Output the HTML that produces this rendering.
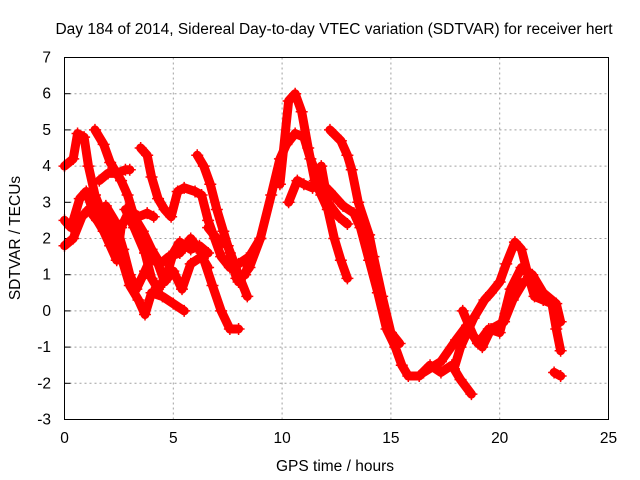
<!DOCTYPE html>
<html><head><meta charset="utf-8"><style>
body{margin:0;background:#fff}
svg{display:block;font-family:"Liberation Sans",sans-serif;font-size:15.5px}
</style></head><body>
<svg id="chart" width="640" height="480">
<text x="334" y="34" text-anchor="middle">Day 184 of 2014, Sidereal Day-to-day VTEC variation (SDTVAR) for receiver hert</text>
<text x="335" y="471" text-anchor="middle">GPS time / hours</text>
<text transform="translate(20,238) rotate(-90)" text-anchor="middle">SDTVAR / TECUs</text>
<g id="grid"></g><g id="ticks"></g><g id="marks"></g>
<rect x="64.5" y="57.5" width="544" height="362" fill="none" stroke="#000"/>
</svg>
<script>
const xTicks=[0,5,10,15,20,25];
const yTicks=[-3,-2,-1,0,1,2,3,4,5,6,7];
const trackA=[[8.0,0.8],[8.5,1.2],[9.0,2.0],[9.5,3.2],[9.9,4.2],[10.2,4.6],[10.6,4.9],[11.0,4.8],[11.3,4.2],[11.7,3.6],[12.2,3.3],[12.8,2.9],[13.3,2.7],[13.6,2.3],[14.0,1.4],[14.4,0.5],[14.8,-0.5],[15.2,-1.0],[15.5,-1.5],[15.8,-1.8],[16.3,-1.8],[16.8,-1.5],[17.3,-1.7],[17.8,-1.5],[18.2,-1.9],[18.7,-2.3]];
const trackB=[[9.9,3.5],[10.3,5.8],[10.6,6.0],[10.9,5.5],[11.2,4.5],[11.5,3.6],[11.8,3.2],[12.1,2.8],[12.4,2.0],[12.7,1.4],[13.0,0.9]];
const trackC=[[10.3,3.0],[10.7,3.6],[11.0,3.5],[11.4,3.4],[11.8,4.0],[12.1,3.0],[12.6,2.6],[13.0,2.4]];
const trackD=[[12.2,5.0],[12.7,4.7],[13.0,4.3],[13.2,3.9],[13.5,3.0],[14.0,2.1],[14.2,1.5],[14.6,0.4],[15.0,-0.6],[15.4,-0.9]];
const trackE=[[17.9,-1.6],[18.2,-1.0],[18.8,-0.2],[19.3,0.3],[19.6,0.5],[20.0,0.8],[20.3,1.3],[20.7,1.9],[21.0,1.7],[21.3,1.0],[21.6,0.4],[22.0,0.3],[22.4,0.2],[22.6,-0.5],[22.8,-1.1]];
const trackF=[[16.5,-1.7],[17.3,-1.4],[18.0,-0.8],[18.5,-0.4],[19.0,-0.9],[19.5,-0.5],[20.0,-0.6],[20.5,0.6],[21.0,1.2],[21.5,1.0],[22.0,0.5],[22.6,0.2],[22.8,-0.3]];
const trackG=[[18.3,0.0],[18.8,-0.7],[19.2,-1.0],[19.6,-0.5],[20.2,-0.3],[20.6,0.3],[21.1,0.8]];
const trackH=[[22.5,-1.7],[22.8,-1.8]];
const trackL1=[[0,4.0],[0.4,4.2],[0.6,4.9],[0.9,4.8],[1.1,4.0],[1.4,3.2],[1.8,2.6],[2.2,2.2],[2.6,1.5],[3.0,0.7],[3.4,0.3],[3.7,-0.1],[4.0,0.5],[4.5,0.4],[5.0,0.2],[5.5,0.0]];
const trackL2=[[1.4,5.0],[1.8,4.6],[2.1,4.1],[2.6,3.6],[2.9,3.2],[3.2,2.6],[3.6,2.2],[4.0,1.7],[4.4,1.3],[4.8,1.5],[5.3,1.6],[5.8,2.0],[6.3,1.6],[6.8,0.7],[7.2,0.0],[7.6,-0.5],[8.0,-0.5]];
const trackL3=[[0,2.5],[0.3,2.3],[0.7,3.1],[1.0,3.3],[1.4,2.6],[1.8,2.2],[2.1,1.8],[2.4,1.4],[2.6,2.3],[3.0,2.8],[3.4,2.6],[3.8,2.7],[4.1,2.6]];
const trackL4=[[0,1.8],[0.4,2.0],[0.8,2.6],[1.1,2.8],[1.5,2.5],[1.9,2.9],[2.3,2.5],[2.7,1.7],[3.0,1.0],[3.3,0.6],[3.7,1.1],[4.0,1.5],[4.3,1.3],[4.6,0.8],[5.0,1.1],[5.4,0.6],[5.8,1.3],[6.3,1.5],[6.6,1.2]];
const trackL5=[[3.5,4.5],[3.8,4.3],[4.0,3.7],[4.3,3.1],[4.6,2.8],[4.9,2.6],[5.2,3.3],[5.5,3.4],[6.0,3.3],[6.3,3.2],[6.6,2.5],[6.9,2.0],[7.2,1.5],[7.6,1.2],[8.0,1.3],[8.5,1.5],[9.0,2.0]];
const trackL6=[[2.8,2.8],[3.2,2.3],[3.7,1.6],[4.0,0.9],[4.3,0.6],[4.7,1.0],[5.0,1.6],[5.3,1.9],[5.8,1.7],[6.2,1.8],[6.6,1.6]];
const trackL7=[[6.1,4.3],[6.4,4.0],[6.7,3.5],[7.0,2.8],[7.3,2.2],[7.6,1.6],[7.9,0.9],[8.3,1.0],[8.6,1.6]];
const trackL8=[[6.6,2.3],[7.0,2.0],[7.5,1.8],[8.0,1.0],[8.4,0.4]];
const trackL9=[[1.6,3.6],[2.0,3.8],[2.4,3.8],[2.8,3.9],[3.0,3.9]];
const tracks=[trackA,trackB,trackC,trackD,trackE,trackF,trackG,trackH,trackL1,trackL2,trackL3,trackL4,trackL5,trackL6,trackL7,trackL8,trackL9];
const X=t=>64.5+t*21.76, Y=v=>57.5+(7-v)*36.2;
const NS="http://www.w3.org/2000/svg";
const grid=document.getElementById('grid'),ticks=document.getElementById('ticks'),marks=document.getElementById('marks');
function mk(tag,attrs,parent){const e=document.createElementNS(NS,tag);for(const k in attrs)e.setAttribute(k,attrs[k]);parent.appendChild(e);return e;}
xTicks.forEach(t=>{
 if(t>0&&t<25){const g=mk('line',{x1:X(t),x2:X(t),y1:57.5,y2:419.5,stroke:'#a0a0a0','stroke-dasharray':'2,3'},grid);
 
 }
 const l=mk('text',{x:X(t),y:443,'text-anchor':'middle'},ticks);l.textContent=t;
 
 
});
yTicks.forEach(v=>{
 if(v>-3&&v<7){const g=mk('line',{x1:64.5,x2:608.5,y1:Y(v),y2:Y(v),stroke:'#a0a0a0','stroke-dasharray':'2,3'},grid);
 
 }
 mk('line',{x1:64.5,x2:70.5,y1:Y(v),y2:Y(v),stroke:'#000'},ticks);
 const l=mk('text',{x:51,y:Y(v)+5,'text-anchor':'end'},ticks);l.textContent=v;
 
 
});
tracks.forEach(tr=>{
 const p=mk('polyline',{points:tr.map(d=>X(d[0])+','+Y(d[1])).join(' '),fill:'none',stroke:'#ff0000','stroke-width':9,'stroke-linejoin':'round','stroke-linecap':'round'},marks);
 
 
 tr.forEach(d=>{
  const m=mk('path',{d:`M${X(d[0])-6},${Y(d[1])}h12M${X(d[0])},${Y(d[1])-6}v12`,stroke:'#ff0000','stroke-width':1.5},marks);
  
  
 });
});
</script>
</body></html>
